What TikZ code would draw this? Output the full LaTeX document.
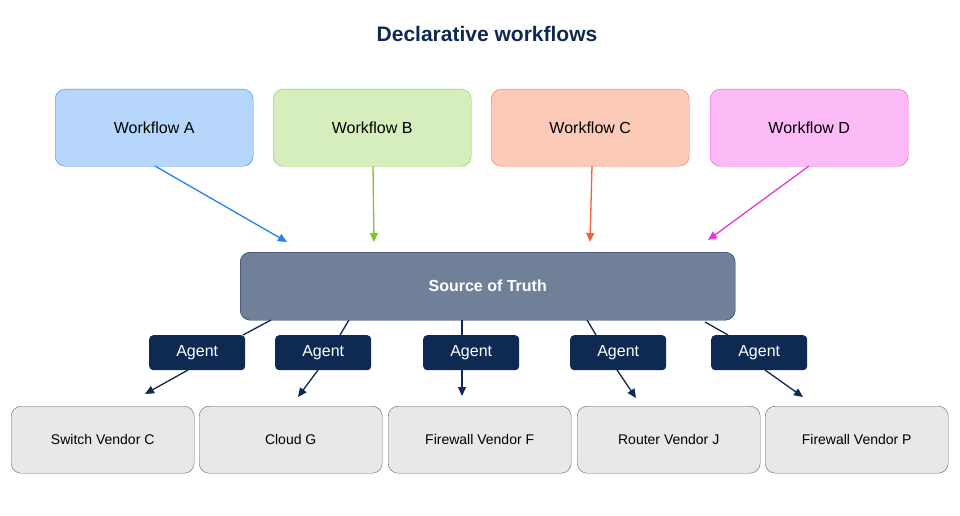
\documentclass[tikz,border=0pt]{standalone}
\usepackage{fontspec}
\setmainfont{Liberation Sans}
\usetikzlibrary{arrows.meta}
\begin{document}
\begin{tikzpicture}[x=1pt,y=-1pt,
 wf/.style={draw, rounded corners=10pt, minimum width=198pt, minimum height=77pt, anchor=north west, font=\fontsize{16}{19}\selectfont, inner sep=0pt},
 ag/.style={fill=agc, rounded corners=4pt, minimum width=96pt, minimum height=35pt, anchor=north west, text=white, font=\fontsize{16}{19}\selectfont, inner sep=0pt},
 vd/.style={draw=gray!80!black, fill=vdc, rounded corners=10pt, minimum width=183pt, minimum height=67pt, anchor=north west, font=\fontsize{14}{17}\selectfont, inner sep=0pt},
 ar/.style={-{Triangle[length=9pt,width=8pt]}, line width=1.3pt},
 ln/.style={line width=1.3pt, draw=agc}]
\definecolor{agc}{HTML}{0F2A52}
\definecolor{vdc}{HTML}{E8E8EA}
\useasboundingbox[fill=white] (0,0) rectangle (960,516);
\node[font=\bfseries\fontsize{21}{25}\selectfont, text=agc] (title) at (487,34) {Declarative workflows};
\node[wf, draw={rgb,255:red,60;green,140;blue,230}, fill={rgb,255:red,182;green,214;blue,252}] (A) at (55,89) {Workflow A};
\node[wf, draw={rgb,255:red,130;green,200;blue,70}, fill={rgb,255:red,214;green,238;blue,188}] (B) at (273,89) {Workflow B};
\node[wf, draw={rgb,255:red,240;green,120;blue,80}, fill={rgb,255:red,253;green,202;blue,184}] (C) at (491,89) {Workflow C};
\node[wf, draw={rgb,255:red,230;green,80;blue,220}, fill={rgb,255:red,252;green,186;blue,246}] (D) at (710,89) {Workflow D};
\node[draw=agc, fill={rgb,255:red,112;green,128;blue,153}, rounded corners=10pt, minimum width=495pt, minimum height=68pt, anchor=north west, text=white, font=\bfseries\fontsize{16}{19}\selectfont] (S) at (240,252) {Source of Truth};
\coordinate (a1) at (155,166); \coordinate (a2) at (287,242);
\coordinate (b1) at (373,166); \coordinate (b2) at (374,242);
\coordinate (c1) at (592,166); \coordinate (c2) at (590,242);
\coordinate (d1) at (809,166); \coordinate (d2) at (708,240);
\draw[ar, draw={rgb,255:red,40;green,130;blue,235}, fill={rgb,255:red,40;green,130;blue,235}] (a1) -- (a2);
\draw[ar, draw={rgb,255:red,120;green,200;blue,50}, fill={rgb,255:red,120;green,200;blue,50}] (b1) -- (b2);
\draw[ar, draw={rgb,255:red,240;green,100;blue,60}, fill={rgb,255:red,240;green,100;blue,60}] (c1) -- (c2);
\draw[ar, draw={rgb,255:red,230;green,60;blue,210}, fill={rgb,255:red,230;green,60;blue,210}] (d1) -- (d2);
\node[ag] (g1) at (149,335) {Agent};
\node[ag] (g2) at (275,335) {Agent};
\node[ag] (g3) at (423,335) {Agent};
\node[ag] (g4) at (570,335) {Agent};
\node[ag] (g5) at (711,335) {Agent};
\node[vd] (v1) at (11,406) {Switch Vendor C};
\node[vd] (v2) at (199,406) {Cloud G};
\node[vd] (v3) at (388,406) {Firewall Vendor F};
\node[vd] (v4) at (577,406) {Router Vendor J};
\node[vd] (v5) at (765,406) {Firewall Vendor P};
\coordinate (s1) at (271,320); \coordinate (t1) at (243,335); \coordinate (u1) at (188,370); \coordinate (e1) at (145,394);
\coordinate (s2) at (349,320); \coordinate (t2) at (340,335); \coordinate (u2) at (318,370); \coordinate (e2) at (298,397);
\coordinate (s3) at (462,320); \coordinate (t3) at (462,335); \coordinate (u3) at (462,370); \coordinate (e3) at (462,396);
\coordinate (s4) at (587,320); \coordinate (t4) at (596,335); \coordinate (u4) at (617,370); \coordinate (e4) at (636,398);
\coordinate (s5) at (705,322); \coordinate (t5) at (728,335); \coordinate (u5) at (765,370); \coordinate (e5) at (803,397);
\foreach \i in {1,...,5}{
 \draw[ln] (s\i) -- (t\i);
 \draw[ln, ar, fill=agc] (u\i) -- (e\i);
}
\end{tikzpicture}
\end{document}
